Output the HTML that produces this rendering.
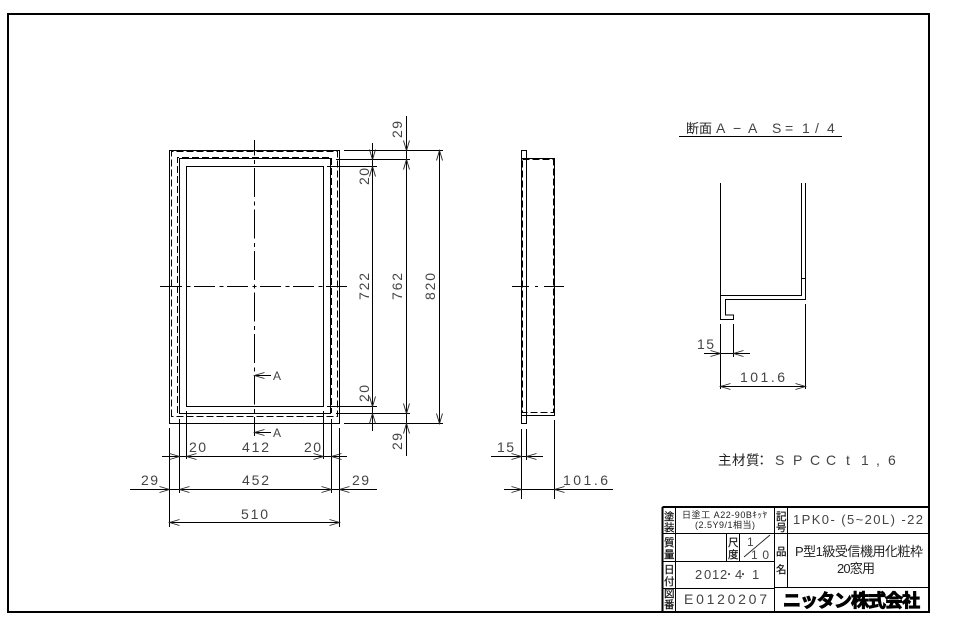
<!DOCTYPE html>
<html><head><meta charset="utf-8"><style>
html,body{margin:0;padding:0;background:#fff}
svg{display:block}
.l{stroke:#000;stroke-width:1;fill:none;shape-rendering:crispEdges}
.b{stroke:#000;stroke-width:1;fill:none;shape-rendering:crispEdges}
.f{stroke:#000;stroke-width:2;fill:none;shape-rendering:crispEdges}
.d{stroke:#000;stroke-width:1;fill:none;stroke-dasharray:7 3;shape-rendering:crispEdges}
.ch{stroke:#000;stroke-width:1;fill:none;stroke-dasharray:21 4.5 4 3.5;shape-rendering:crispEdges}
.cv{stroke:#000;stroke-width:1;fill:none;stroke-dasharray:29 4.5 4 4;stroke-dashoffset:13.5;shape-rendering:crispEdges}
.a{stroke:#222;stroke-width:.9;fill:none}
text{font-family:"Liberation Sans","Noto Sans CJK JP",sans-serif;fill:#444;font-size:14px}
.j{fill:#222;font-size:11px}
.s{fill:#111;font-size:10.5px;stroke:#111;stroke-width:.2}
</style></head><body>
<svg width="954" height="632" viewBox="0 0 954 632" xmlns="http://www.w3.org/2000/svg">
<defs><path id="a" class="a" d="M-10,-3 L0,0 L-10,3"/></defs>
<rect class="f" x="8" y="14" width="921" height="598"/>

<!-- front view -->
<path class="b" d="M169.5 423.5V150.5H339.5V423.5ZM179.5 413.5V158.5H330.5V413.5Z"/>
<path class="l" d="M186.5 166.5H323.5V406.5H186.5Z"/>
<path class="d" d="M171.5 416.5V151.5H337.5V416.5ZM177.5 413V157.5H331.5V413"/>
<path class="ch" d="M161 286.5H348"/>
<path class="l" d="M160 286.5H162"/>
<path class="cv" d="M254.5 140V436"/>

<!-- section arrows -->
<path class="l" d="M254.5 375.5H271M254.5 432.5H271"/>
<use href="#a" transform="translate(254.5,375.5) rotate(180)"/>
<use href="#a" transform="translate(254.5,432.5) rotate(180)"/>
<text x="273" y="380" style="font-size:12px">A</text>
<text x="273" y="437" style="font-size:12px">A</text>

<!-- front dims -->
<path class="l" d="M169.5 428V527M179.5 419V493M186.5 411V459M323.5 411V459M331.5 419V493M339.5 428V527
M162 456.5H347M130 489.5H377M169.5 522.5H339.5
M372.5 143V431M406.5 116V456M439.5 151V423
M344 150.5H443M336 159.5H410M327 166.5H377M327 406.5H377M336 413.5H410M344 423.5H443"/>
<use href="#a" transform="translate(179.5,456.5)"/>
<use href="#a" transform="translate(186.5,456.5) rotate(180)"/>
<use href="#a" transform="translate(323.5,456.5)"/>
<use href="#a" transform="translate(331.5,456.5) rotate(180)"/>
<use href="#a" transform="translate(169.5,489.5)"/>
<use href="#a" transform="translate(179.5,489.5) rotate(180)"/>
<use href="#a" transform="translate(331.5,489.5)"/>
<use href="#a" transform="translate(339.5,489.5) rotate(180)"/>
<use href="#a" transform="translate(169.5,522.5) rotate(180)"/>
<use href="#a" transform="translate(339.5,522.5)"/>
<use href="#a" transform="translate(372.5,159.5) rotate(90)"/>
<use href="#a" transform="translate(372.5,166.5) rotate(-90)"/>
<use href="#a" transform="translate(372.5,406.5) rotate(90)"/>
<use href="#a" transform="translate(372.5,413.5) rotate(-90)"/>
<use href="#a" transform="translate(406.5,150.5) rotate(90)"/>
<use href="#a" transform="translate(406.5,159.5) rotate(-90)"/>
<use href="#a" transform="translate(406.5,413.5) rotate(90)"/>
<use href="#a" transform="translate(406.5,423.5) rotate(-90)"/>
<use href="#a" transform="translate(439.5,150.5) rotate(-90)"/>
<use href="#a" transform="translate(439.5,423.5) rotate(90)"/>

<text x="189" y="452" textLength="17">20</text>
<text x="242" y="452" textLength="27">412</text>
<text x="304" y="452" textLength="17">20</text>
<text x="141" y="485" textLength="17">29</text>
<text x="242" y="485" textLength="27">452</text>
<text x="352" y="485" textLength="17">29</text>
<text x="241" y="519" textLength="27">510</text>
<text transform="translate(402,138) rotate(-90)" textLength="17">29</text>
<text transform="translate(369,185) rotate(-90)" textLength="17">20</text>
<text transform="translate(369,300) rotate(-90)" textLength="27">722</text>
<text transform="translate(402,300) rotate(-90)" textLength="27">762</text>
<text transform="translate(435,300) rotate(-90)" textLength="27">820</text>
<text transform="translate(369,402) rotate(-90)" textLength="17">20</text>
<text transform="translate(402,450) rotate(-90)" textLength="17">29</text>

<!-- side view -->
<path class="b" d="M521.5 150.5H526.5V423.5H521.5ZM521.5 158.5H554.5V415.5H521.5"/>
<path class="d" d="M522.5 159.5H553.5V412.5H522.5Z"/>
<path class="l" d="M512 286.5H529M535 286.5H538M544 286.5H564"/>
<path class="l" d="M521.5 429V499M526.5 429V460M554.5 420V499M491 456.5H543M504 489.5H613"/>
<use href="#a" transform="translate(521.5,456.5)"/>
<use href="#a" transform="translate(526.5,456.5) rotate(180)"/>
<use href="#a" transform="translate(521.5,489.5)"/>
<use href="#a" transform="translate(554.5,489.5) rotate(180)"/>
<text x="497" y="452" textLength="17">15</text>
<text x="563" y="485" textLength="45">101.6</text>

<!-- section -->
<text class="j" x="686 699" y="133" style="font-size:13px">断面</text>
<text x="716 733 748 772 785 802 815 827" y="133" style="font-size:14px">A−AS=1/4</text>
<path class="l" d="M679 136.5H842"/>
<path class="l" d="M720.5 183V319.5H733.5V315H725.5V299.5H805.5V183M801.5 183V295.5H720.5M801.5 278.5H805.5"/>
<path class="l" d="M720.5 324V389M733.5 324V357M805.5 304V389M704 353.5H750M720.5 386.5H805.5"/>
<use href="#a" transform="translate(720.5,353.5)"/>
<use href="#a" transform="translate(733.5,353.5) rotate(180)"/>
<use href="#a" transform="translate(720.5,386.5) rotate(180)"/>
<use href="#a" transform="translate(805.5,386.5)"/>
<text x="697" y="349" textLength="17">15</text>
<text x="740" y="382" textLength="45">101.6</text>
<text class="j" x="718 732 746 755" y="465" style="font-size:13.5px">主材質：</text>
<text x="775 793 810 826 846 861 876 888" y="465" style="font-size:14px">SPCCt1,6</text>

<!-- title block -->
<path class="f" d="M662.5 507V612M662.5 507H929"/>
<path class="l" d="M675.5 507V612M774.5 507V612M787.5 507V587M662 533.5H929M662 561.5H775M662 588.5H775M774 587.5H929
M726.5 533V561M739.5 533V561"/>
<path class="a" d="M744 557L770 535"/>
<text class="s" x="664" y="520">塗</text>
<text class="s" x="664" y="531">装</text>
<text class="s" x="664" y="546">質</text>
<text class="s" x="664" y="558">量</text>
<text class="s" x="664" y="573">日</text>
<text class="s" x="664" y="585">付</text>
<text class="s" x="664" y="597">図</text>
<text class="s" x="664" y="608">番</text>
<text class="s" x="776" y="520">記</text>
<text class="s" x="776" y="531">号</text>
<text class="s" x="776" y="555">品</text>
<text class="s" x="776" y="573">名</text>
<text class="s" x="728" y="546">尺</text>
<text class="s" x="728" y="558">度</text>
<text class="j" x="682" y="518" textLength="85" style="font-size:9px">日塗工 A22-90Bｷｯﾔ</text>
<text class="j" x="695" y="528" textLength="60" style="font-size:9px">(2.5Y9/1相当)</text>
<text x="793" y="524" textLength="130" style="font-size:13px">1PK0- (5~20L) -22</text>
<text x="747" y="546" style="font-size:12px">1</text>
<text x="751" y="559" textLength="18" style="font-size:12px">10</text>
<text class="j" x="795" y="556" textLength="128" style="font-size:13px">P型1級受信機用化粧枠</text>
<text class="j" x="837" y="573" textLength="38" style="font-size:13px">20窓用</text>
<text x="695 704 712 720" y="579" style="font-size:13px">2012</text>
<text x="735" y="579" style="font-size:13px">4</text>
<text x="752" y="579" style="font-size:13px">1</text>
<text x="724" y="578" style="font-size:10px">・</text>
<text x="738" y="578" style="font-size:10px">・</text>
<text x="684" y="604" textLength="83" style="font-size:14px">E0120207</text>
<text x="783" y="607" textLength="137" style="font-size:18px;font-weight:bold;fill:#000;stroke:#000;stroke-width:1;font-family:'Noto Sans CJK JP',sans-serif">ニッタン株式会社</text>
</svg>
</body></html>
